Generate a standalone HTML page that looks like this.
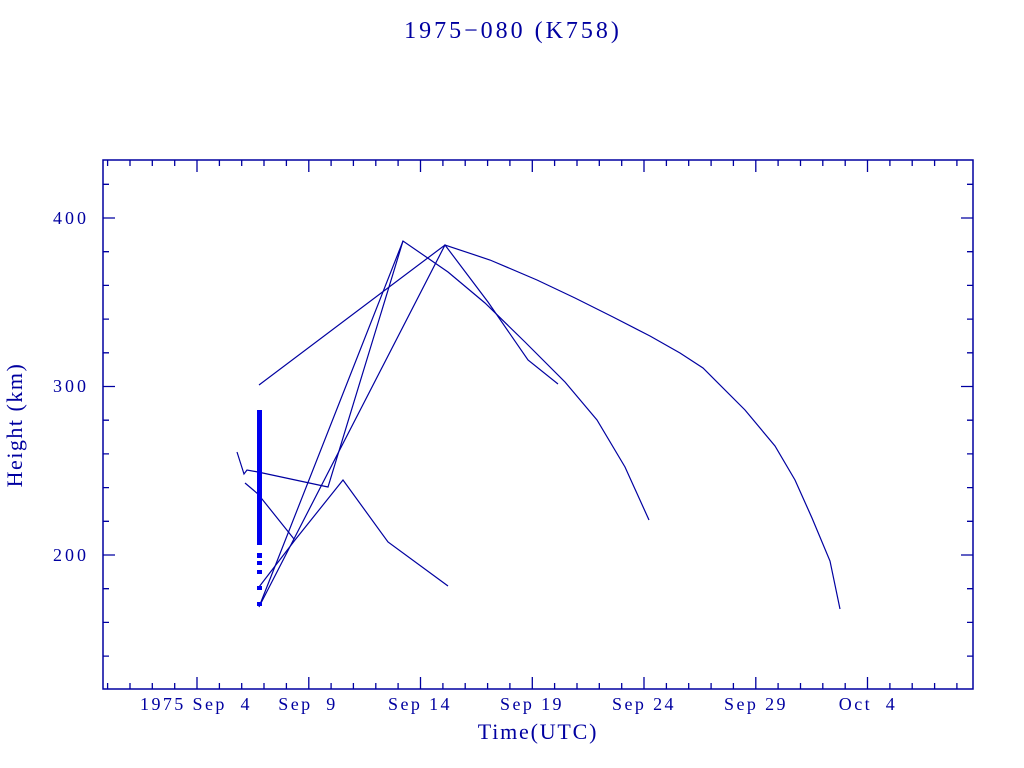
<!DOCTYPE html>
<html><head><style>body{margin:0;background:#fff}svg{display:block}text{font-family:"Liberation Serif",serif;fill:#0000a0;white-space:pre}</style></head><body>
<svg width="1024" height="768" viewBox="0 0 1024 768" xml:space="preserve">
<text x="513" y="38" font-size="24" letter-spacing="3" text-anchor="middle">1975−080 (K758)</text>
<rect x="103" y="160" width="870" height="529" fill="none" stroke="#0000a0" stroke-width="1.5"/>
<path stroke="#0000a0" stroke-width="1.3" fill="none" d="
M107.6,689v-6M107.6,160v6M130,689v-6M130,160v6M152.3,689v-6M152.3,160v6M174.7,689v-6M174.7,160v6M197,689v-12M197,160v12
M219.4,689v-6M219.4,160v6M241.7,689v-6M241.7,160v6M264,689v-6M264,160v6M286.4,689v-6M286.4,160v6M308.8,689v-12M308.8,160v12
M331.1,689v-6M331.1,160v6M353.4,689v-6M353.4,160v6M375.8,689v-6M375.8,160v6M398.1,689v-6M398.1,160v6M420.5,689v-12M420.5,160v12
M442.9,689v-6M442.9,160v6M465.2,689v-6M465.2,160v6M487.6,689v-6M487.6,160v6M509.9,689v-6M509.9,160v6M532.3,689v-12M532.3,160v12
M554.6,689v-6M554.6,160v6M577,689v-6M577,160v6M599.3,689v-6M599.3,160v6M621.7,689v-6M621.7,160v6M644,689v-12M644,160v12
M666.4,689v-6M666.4,160v6M688.7,689v-6M688.7,160v6M711.1,689v-6M711.1,160v6M733.4,689v-6M733.4,160v6M755.8,689v-12M755.8,160v12
M778.1,689v-6M778.1,160v6M800.5,689v-6M800.5,160v6M822.8,689v-6M822.8,160v6M845.2,689v-6M845.2,160v6M867.5,689v-12M867.5,160v12
M889.9,689v-6M889.9,160v6M912.2,689v-6M912.2,160v6M934.6,689v-6M934.6,160v6M956.9,689v-6M956.9,160v6
M103,656.1h6M973,656.1h-6M103,622.4h6M973,622.4h-6M103,588.7h6M973,588.7h-6M103,555h12M973,555h-12
M103,521.3h6M973,521.3h-6M103,487.6h6M973,487.6h-6M103,453.9h6M973,453.9h-6M103,420.2h6M973,420.2h-6M103,386.5h12M973,386.5h-12
M103,352.8h6M973,352.8h-6M103,319.1h6M973,319.1h-6M103,285.4h6M973,285.4h-6M103,251.7h6M973,251.7h-6M103,218h12M973,218h-12M103,184.3h6M973,184.3h-6"/>
<g font-size="18" letter-spacing="2.4" text-anchor="middle">
<text x="196" y="710">1975 Sep  4</text><text x="308" y="710">Sep  9</text><text x="420" y="710">Sep 14</text><text x="532" y="710">Sep 19</text><text x="644" y="710">Sep 24</text><text x="756" y="710">Sep 29</text><text x="868" y="710">Oct  4</text>
<text x="538" y="739" font-size="22" letter-spacing="1.8">Time(UTC)</text>
</g>
<g font-size="18" letter-spacing="3" text-anchor="end"><text x="89" y="224">400</text><text x="89" y="392">300</text><text x="89" y="561">200</text></g>
<text transform="translate(22,425) rotate(-90)" font-size="22" letter-spacing="1.5" text-anchor="middle">Height (km)</text>
<g fill="none" stroke="#0000a0" stroke-width="1.2">
<polyline points="259,385 445,245 490,260 537,280 575,298 613,317 650,336 680,353 703,368 745,410 775,446 795,480 812,518 830,561 840,609"/>
<polyline points="259,607 403,241 448,272 485,303 525,342 565,382 597,420 625,467 649,520"/>
<polyline points="260,605 445,245 488,302 528,360 558,384"/>
<polyline points="237,452 244,474 247,470 258,472 328,487 403,241"/>
<polyline points="259,587 295,540 343,480 388,542 448,586"/>
<polyline points="245,483 258,494 294,539"/>
</g>
<rect x="257" y="410" width="5" height="135" fill="#0000ee"/>
<g fill="#0000ee"><rect x="257" y="553" width="5" height="5"/><rect x="257" y="561" width="5" height="4"/><rect x="257" y="570" width="5" height="4"/><rect x="257" y="586" width="5" height="4"/><rect x="257" y="602" width="5" height="4"/></g>
</svg></body></html>
